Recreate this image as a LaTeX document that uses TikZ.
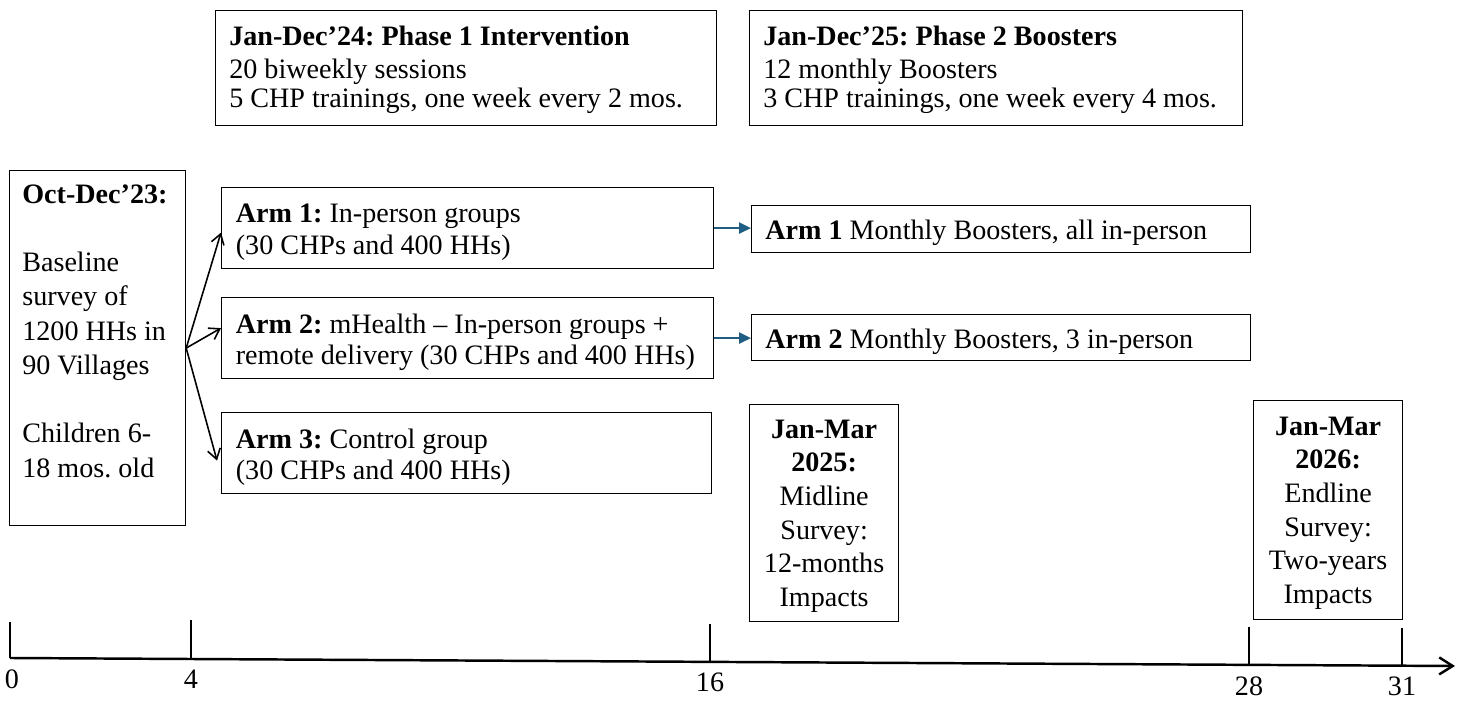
\documentclass[tikz,border=0pt]{standalone}
\usepackage{fontspec}
\setmainfont{Liberation Serif}
\usetikzlibrary{arrows.meta}
\usetikzlibrary{positioning}

\definecolor{boostblue}{RGB}{31,94,130}

\begin{document}
\frenchspacing
\begin{tikzpicture}[x=0.02cm, y=-0.02cm,
  frame/.style={draw, line width=0.7pt, anchor=north west, inner sep=0pt},
  txt/.style={inner sep=0pt, align=left},
  armline/.style={-{Straight Barb[length=0.2cm, width=0.26cm]}, line width=0.9pt},
  boostline/.style={-{Triangle[length=0.24cm, width=0.22cm]}, draw=boostblue,
    fill=boostblue, line width=1.4pt},
  tick/.style={line width=1.1pt},
  ticklabel/.style={below=0.22cm of #1, inner sep=0pt, font=\fontsize{16}{18}\selectfont}]

\useasboundingbox (0,0) rectangle (1465,702);

% phases
\node[frame, minimum width=10.02cm, minimum height=2.3cm] (ph1) at (215,10) {};
\node[txt, right=0.28cm of ph1.west, yshift=-0.03cm,
  font=\fontsize{16}{16.4}\selectfont] (ph1txt)
  {\textbf{Jan-Dec’24: Phase 1 Intervention}\\[2.5pt]
   20 biweekly sessions\\
   5 CHP trainings, one week every 2 mos.};
\node[frame, minimum width=9.86cm, minimum height=2.3cm] (ph2) at (749,10) {};
\node[txt, right=0.28cm of ph2.west, yshift=-0.03cm,
  font=\fontsize{16}{16.4}\selectfont] (ph2txt)
  {\textbf{Jan-Dec’25: Phase 2 Boosters}\\[2.5pt]
   12 monthly Boosters\\
   3 CHP trainings, one week every 4 mos.};

% baseline
\node[frame, minimum width=3.52cm, minimum height=7.1cm] (base) at (9,170) {};
\node[txt, anchor=north west, font=\fontsize{16}{19.5}\selectfont] (basetxt)
  at ([shift={(13,14)}]base.north west)
  {\textbf{Oct-Dec’23:}\\[19.5pt]
   Baseline\\
   survey of\\
   1200 HHs in\\
   90 Villages\\[19.5pt]
   Children 6-\\
   18 mos. old};

% arms
\node[frame, minimum width=9.84cm, minimum height=1.62cm] (arm1) at (221,187) {};
\node[txt, right=0.29cm of arm1.west, yshift=-0.08cm,
  font=\fontsize{16}{18}\selectfont] (arm1txt)
  {\textbf{Arm 1:} In-person groups\\
   (30 CHPs and 400 HHs)};
\node[frame, minimum width=9.84cm, minimum height=1.62cm] (arm2) at (221,297) {};
\node[txt, right=0.29cm of arm2.west, yshift=-0.08cm,
  font=\fontsize{16}{18}\selectfont] (arm2txt)
  {\textbf{Arm 2:} mHealth – In-person groups +\\
   remote delivery (30 CHPs and 400 HHs)};
\node[frame, minimum width=9.8cm, minimum height=1.62cm] (arm3) at (221,412) {};
\node[txt, right=0.29cm of arm3.west, yshift=-0.08cm,
  font=\fontsize{16}{18}\selectfont] (arm3txt)
  {\textbf{Arm 3:} Control group\\
   (30 CHPs and 400 HHs)};

% boosters
\node[frame, minimum width=9.98cm, minimum height=0.94cm] (bst1) at (751,205) {};
\node[txt, right=0.28cm of bst1.west, yshift=-0.08cm,
  font=\fontsize{16}{18}\selectfont] (bst1txt)
  {\textbf{Arm 1} Monthly Boosters, all in-person};
\node[frame, minimum width=9.98cm, minimum height=0.92cm] (bst2) at (751,314) {};
\node[txt, right=0.28cm of bst2.west, yshift=-0.08cm,
  font=\fontsize{16}{18}\selectfont] (bst2txt)
  {\textbf{Arm 2} Monthly Boosters, 3 in-person};

% surveys
\node[frame, minimum width=2.98cm, minimum height=4.34cm] (mid) at (749,404) {};
\node[txt, align=center, yshift=-0.06cm, font=\fontsize{16}{19.1}\selectfont] (midtxt)
  at (mid.center)
  {\textbf{Jan-Mar}\\ \textbf{2025:}\\ Midline\\ Survey:\\ 12-months\\ Impacts};
\node[frame, minimum width=2.98cm, minimum height=4.38cm] (end) at (1253,400) {};
\node[txt, align=center, yshift=-0.06cm, font=\fontsize{16}{19.1}\selectfont] (endtxt)
  at (end.center)
  {\textbf{Jan-Mar}\\ \textbf{2026:}\\ Endline\\ Survey:\\ Two-years\\ Impacts};

\draw[armline] (base.east) -- ([yshift=-0.09cm]arm1.west);
\draw[armline] (base.east) -- ([yshift=0.2cm]arm2.west);
\draw[armline] (base.east) -- ([shift={(-0.08cm,-0.15cm)}]arm3.west);

\draw[boostline] (arm1.east) -- (arm1.east -| bst1.west);
\draw[boostline] (arm2.east) -- (arm2.east -| bst2.west);

% timeline
\coordinate (t0) at (10,658);
\coordinate (t4) at (191,659);
\coordinate (t16) at (710,662);
\coordinate (t28) at (1249,665);
\coordinate (t31) at (1402,665.7);
\coordinate (tend) at (1455,666);

\draw[line width=1.4pt, -{Straight Barb[length=0.27cm, width=0.34cm]}] (t0) -- (tend);

\draw[tick] (t0) -- (10,622);
\draw[tick] (t4) -- (191,620);
\draw[tick] (t16) -- (710,624);
\draw[tick] (t28) -- (1249,627);
\draw[tick] (t31) -- (1402,628);

\node[ticklabel=t0, xshift=0.04cm] (l0) {0};
\node[ticklabel=t4] (l4) {4};
\node[ticklabel=t16] (l16) {16};
\node[ticklabel=t28] (l28) {28};
\node[ticklabel=t31] (l31) {31};

\end{tikzpicture}
\end{document}
